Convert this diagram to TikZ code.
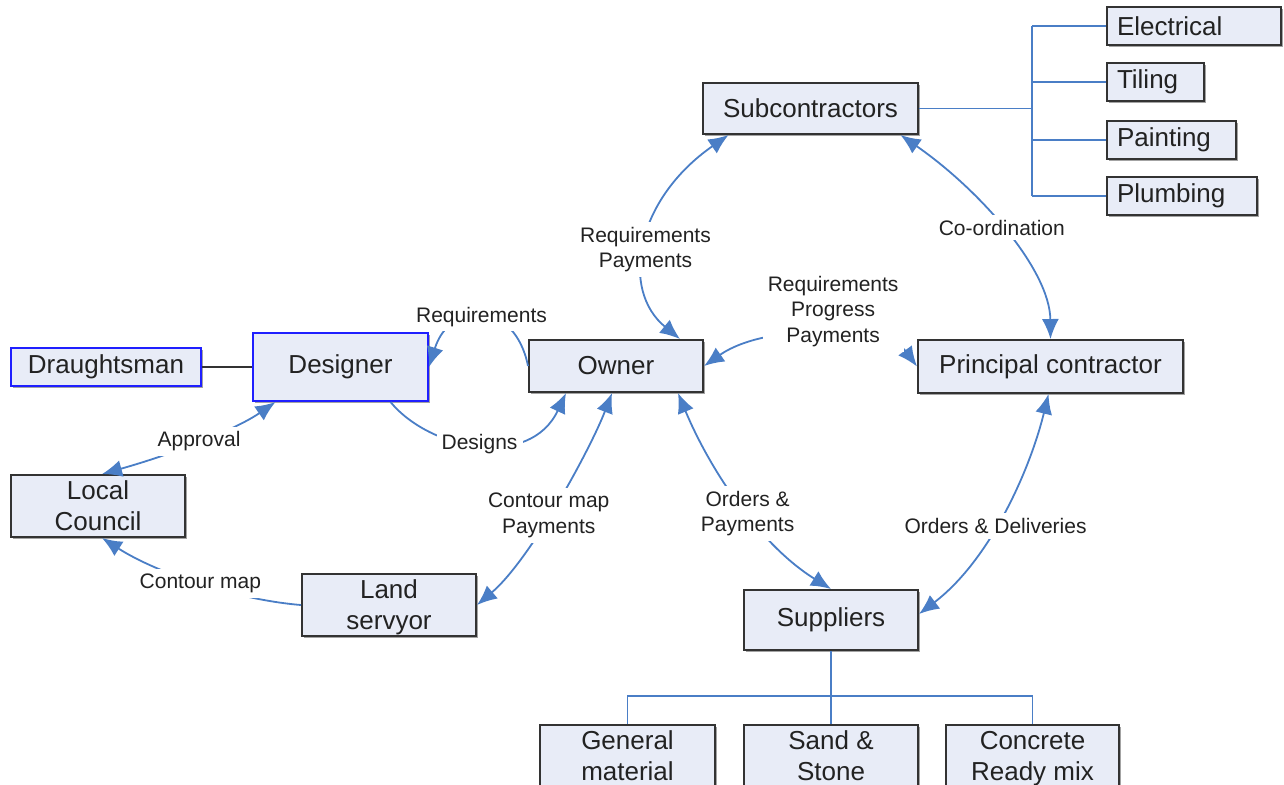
\documentclass[tikz,border=0pt]{standalone}
\usepackage{fontspec}
\setmainfont{Liberation Sans}
\usetikzlibrary{arrows.meta,shadows,calc}
\definecolor{boxfill}{HTML}{E8ECF7}
\definecolor{boxline}{HTML}{333333}
\definecolor{linkblue}{HTML}{4A7EC6}
\definecolor{edgeblue}{HTML}{1F1FFF}
\definecolor{inkgray}{HTML}{222222}
% struts that keep two-line box texts evenly placed
\newcommand\headstrut{\rule{0pt}{12.25pt}}
\newcommand\footstrut{\rule[-3.25pt]{0pt}{0pt}}
\begin{document}
\begin{tikzpicture}[x=0.5pt,y=-0.5pt,
  >={Latex[length=10pt,width=8.5pt]},
  box/.style={draw=boxline, line width=1pt, fill=boxfill, text=inkgray,
    align=center, font=\fontsize{13}{15.5}\selectfont, inner sep=0pt,
    drop shadow={shadow xshift=0.9pt, shadow yshift=-0.9pt, fill=black!60, opacity=0.6}},
  bluebox/.style={box, draw=edgeblue},
  trade/.style={box, align=left, inner xsep=5pt, minimum height=19pt},
  link/.style={draw=linkblue, line width=0.9pt},
  tree/.style={draw=linkblue, line width=0.9pt},
  lbl/.style={fill=white, text=inkgray, font=\fontsize{10.5}{12.75}\selectfont,
    align=center, inner sep=2.5pt},
]
\useasboundingbox (0,0) rectangle (1284,784);
\begin{scope}
\clip (0,0) rectangle (1284,784);

% boxes
\node[box, minimum width=107.5pt, minimum height=25.5pt] (sub) at (810.5,108.5) {Subcontractors};
\node[trade, text width=77pt] (elec) at (1194,26) {Electrical};
\node[trade, text width=38.5pt] (tile) at (1155.5,82) {Tiling};
\node[trade, text width=54.5pt] (paint) at (1171.5,140) {Painting};
\node[trade, text width=65pt] (plumb) at (1182,196) {Plumbing};
\node[bluebox, minimum width=95pt, minimum height=19pt] (dra) at (106,367) {Draughtsman};
\node[bluebox, minimum width=87.5pt, minimum height=34pt] (des) at (340.5,367) {Designer};
\node[box, minimum width=87pt, minimum height=26pt] (own) at (616,366) {Owner};
\node[box, minimum width=132.5pt, minimum height=26.5pt] (pc) at (1050.5,366.5) {Principal contractor};
\node[box, minimum width=87pt, minimum height=31pt] (lc) at (98,506) {\headstrut Local\\Council\footstrut};
\node[box, minimum width=87pt, minimum height=31pt] (land) at (389,605) {\headstrut Land\\servyor\footstrut};
\node[box, minimum width=87pt, minimum height=30pt] (sup) at (831,620) {Suppliers};
\node[box, minimum width=87.5pt, minimum height=31pt] (gen) at (627.5,756) {\headstrut General\\material\footstrut};
\node[box, minimum width=87pt, minimum height=31pt] (sand) at (831,756) {\headstrut Sand \&\\Stone\footstrut};
\node[box, minimum width=86.5pt, minimum height=31pt] (conc) at (1032.5,756) {\headstrut Concrete\\Ready mix\footstrut};

% plain links
\draw[draw=boxline, line width=1pt] (dra.east) -- (des.west);

\coordinate (bx) at (1032,0);
\draw[tree] (sub.east) -- (sub.east -| bx);
\draw[tree] (bx |- elec.west) -- (bx |- plumb.west);
\foreach \t in {elec,tile,paint,plumb} \draw[tree] (bx |- \t.west) -- (\t.west);

\coordinate (by) at (0,696);
\draw[tree] (sup.south) -- (sand.north);
\draw[tree] (gen.north) -- (gen.north |- by) -- (conc.north |- by) -- (conc.north);

% labelled connectors
\draw[link,<->] ($(own.north)+(64,0)$) .. controls (620,290) and (635,200) .. ($(sub.south)+(-82,0)$)
  node[lbl,pos=0.47] {Requirements\\Payments};
\draw[link,<->] (pc.north) .. controls (1050,270) and (980,190) .. ($(sub.south)+(90,0)$)
  node[lbl,pos=0.52] {Co-ordination};
\draw[link,->] (own.west) .. controls (515,300) and (450,300) .. (des.east)
  node[lbl,pos=0.5] {Requirements};
\draw[link,->] ($(des.south)+(50,0)$) .. controls (430,450) and (530,470) .. ($(own.south)+(-50,0)$)
  node[lbl,pos=0.5] {Designs};
\draw[link,<->] (own.east) .. controls (770,320) and (890,330) .. (pc.west)
  node[lbl,pos=0.5,xshift=4pt,yshift=12pt] {Requirements\\Progress\\Payments};
\draw[link,<->] ($(own.south)+(-4,0)$) .. controls (590,450) and (530,560) .. (land.east)
  node[lbl,pos=0.55] {Contour map\\Payments};
\draw[link,<->] ($(own.south)+(62,0)$) .. controls (710,470) and (760,545) .. (sup.north)
  node[lbl,pos=0.55] {Orders \&\\Payments};
\draw[link,<->] ($(pc.south)+(-2,0)$) .. controls (1030,470) and (990,560) .. ($(sup.east)+(0,-6)$)
  node[lbl,pos=0.56] {Orders \& Deliveries};
\draw[link,<->] ($(des.south)+(-65,0)$) .. controls (235,430) and (170,455) .. ($(lc.north)+(4,0)$)
  node[lbl,pos=0.5] {Approval};
\draw[link,->] (land.west) .. controls (240,600) and (160,575) .. ($(lc.south)+(4,0)$)
  node[lbl,pos=0.5] {Contour map};
\end{scope}
\end{tikzpicture}
\end{document}
